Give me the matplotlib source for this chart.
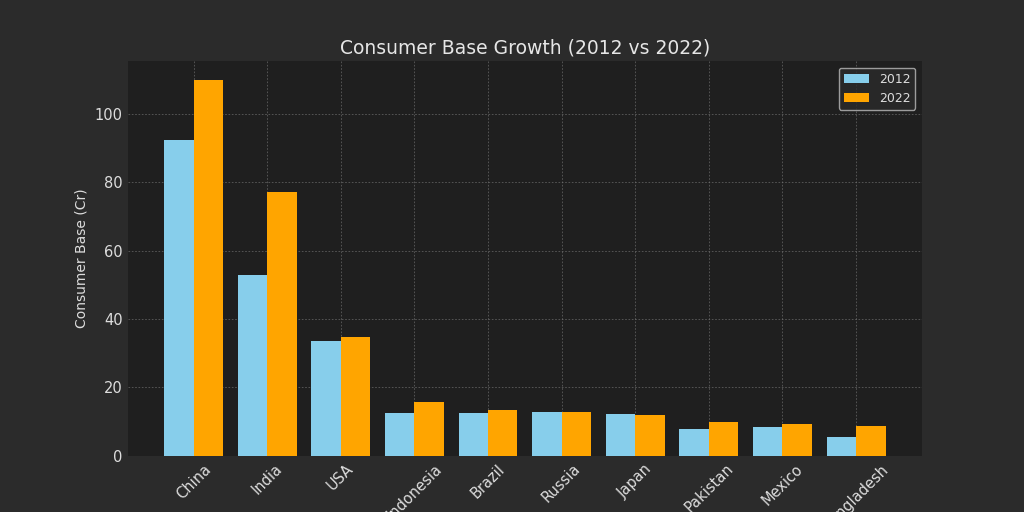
import matplotlib
matplotlib.use("Agg")
import matplotlib.pyplot as plt
import numpy as np

countries = ["China", "India", "USA", "Indonesia", "Brazil", "Russia",
             "Japan", "Pakistan", "Mexico", "Bangladesh"]
base_2012 = [92.3, 52.8, 33.5, 12.5, 12.5, 12.7, 12.2, 7.7, 8.3, 5.5]
base_2022 = [109.9, 77.2, 34.7, 15.7, 13.5, 12.7, 11.8, 9.8, 9.2, 8.6]

plt.style.use("dark_background")
fig, ax = plt.subplots(figsize=(10.24, 5.12), dpi=100)
fig.patch.set_facecolor("#2b2b2b")
ax.set_facecolor("#1f1f1f")

x = np.arange(len(countries))
w = 0.4
ax.bar(x - w / 2, base_2012, w, color="#87CEEB", label="2012")
ax.bar(x + w / 2, base_2022, w, color="#FFA500", label="2022")

ax.set_xticks(x)
ax.set_xticklabels(countries, rotation=45, color="#dddddd", fontsize=10.5)
ax.tick_params(axis="both", colors="#dddddd", labelsize=10.5, length=0, pad=4)
ax.set_ylabel("Consumer Base (Cr)", color="#dddddd", fontsize=10)
ax.set_title("Consumer Base Growth (2012 vs 2022)", color="#e6e6e6", fontsize=13.5)
ax.grid(True, linestyle=(0, (2, 2)), color="#777777", alpha=0.7, linewidth=0.6)
ax.set_axisbelow(True)
for s in ax.spines.values():
    s.set_visible(False)

leg = ax.legend(loc="upper right", facecolor="#2b2b2b", edgecolor="#bbbbbb",
                fontsize=9, labelcolor="#dddddd")

fig.savefig("out.png", dpi=100, facecolor=fig.get_facecolor())
